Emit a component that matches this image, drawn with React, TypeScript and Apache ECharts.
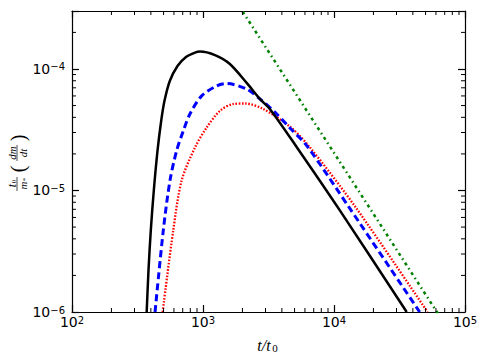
import React, { useEffect, useRef } from 'react';
import * as echarts from 'echarts';

const X_MIN = 100;
const X_MAX = 100000;
const Y_MIN = 1e-6;
const Y_MAX = 3e-4;

const xMinorTicks = [200, 300, 400, 500, 600, 700, 800, 900, 2000, 3000, 4000, 5000, 6000, 7000, 8000, 9000, 20000, 30000, 40000, 50000, 60000, 70000, 80000, 90000];
const yMinorTicks = [2e-6, 3e-6, 4e-6, 5e-6, 6e-6, 7e-6, 8e-6, 9e-6, 2e-5, 3e-5, 4e-5, 5e-5, 6e-5, 7e-5, 8e-5, 9e-5, 2e-4];

// black solid curve
const solidT = [371.6, 383.7, 399.5, 421.2, 449.6, 479.7, 508.3, 557.9, 638.8, 741.7, 868.9, 948.6, 1234, 1603, 2171, 2728, 3248, 5232, 11113, 35892];
const solidV = [1.0e-6, 2.21e-6, 4.7e-6, 1.0e-5, 2.13e-5, 3.75e-5, 5.47e-5, 7.97e-5, 1.058e-4, 1.254e-4, 1.365e-4, 1.391e-4, 1.30e-4, 1.10e-4, 7.61e-5, 5.65e-5, 4.67e-5, 2.25e-5, 6.83e-6, 1.0e-6];
// blue dashed curve
const dashT = [430.5, 497.7, 559.8, 629.5, 707.9, 796.2, 977.2, 1274, 1517, 2158, 2730, 3656, 4590, 6194, 13243, 45080];
const dashV = [1e-6, 4.7e-6, 1.208e-5, 2.13e-5, 3.1e-5, 4.28e-5, 6.01e-5, 7.26e-5, 7.59e-5, 6.82e-5, 5.65e-5, 4.26e-5, 3.28e-5, 2.34e-5, 7.08e-6, 1e-6];
// red dotted curve
const dotT = [492.0, 592.9, 687.1, 868.9, 1067, 1349, 1694, 2094, 2884, 4613, 6561, 14894, 51760];
const dotV = [1e-6, 4.7e-6, 1.208e-5, 2.26e-5, 3.3e-5, 4.53e-5, 5.14e-5, 5.2e-5, 4.68e-5, 3.35e-5, 2.26e-5, 7.08e-6, 1e-6];
// green dash-dot line
const dashDotT = [1800, 10000, 65000];
const dashDotV = [3.56e-4, 2.04e-5, 9.0e-7];

const pairs = (t: number[], v: number[]) => t.map((x, i) => [x, v[i]]);

const powLabel = (val: number) => {
  const l = Math.log10(val);
  const e = Math.round(l);
  if (Math.abs(l - e) > 1e-6) return '';
  return `{b|10}{s|${e < 0 ? '\u2212' : ''}${Math.abs(e)}}`;
};

const labelRich = {
  b: { fontSize: 14, lineHeight: 14, fontFamily: 'DejaVu Sans', color: '#000', verticalAlign: 'bottom', padding: [4, 0, 0, 0] },
  s: { fontSize: 10, lineHeight: 10, fontFamily: 'DejaVu Sans', color: '#000', verticalAlign: 'top' },
};

const frameLine = { show: true, onZero: false, lineStyle: { color: '#000', width: 1.2 } };
const majorTick = { show: true, inside: true, length: 7, lineStyle: { color: '#000', width: 1.2 } };

export default function App() {
  const ref = useRef<HTMLDivElement>(null);
  useEffect(() => {
    if (!ref.current) return;
    const chart = echarts.init(ref.current, undefined, { renderer: 'svg' });
    const serif = 'Liberation Serif';
    const it = (text: string, x: number, y: number, size = 11) => ({
      type: 'text', x, y,
      style: { text, align: 'center', verticalAlign: 'middle', fontFamily: serif, fontStyle: 'italic', fontSize: size, fill: '#000' },
    });
    const up = (text: string, x: number, y: number, size = 7) => ({
      type: 'text', x, y,
      style: { text, align: 'center', verticalAlign: 'middle', fontFamily: serif, fontSize: size, fill: '#000' },
    });
    const option: any = {
      animation: false,
      backgroundColor: '#fff',
      grid: { left: 72, right: 20, top: 11, bottom: 51, containLabel: false },
      xAxis: [
        {
          type: 'log', logBase: 10, min: X_MIN, max: X_MAX, position: 'bottom',
          axisLine: frameLine, axisTick: majorTick, splitLine: { show: false },
          axisLabel: { formatter: powLabel, rich: labelRich, margin: 3, showMinLabel: true, showMaxLabel: true },
        },
        {
          type: 'log', logBase: 10, min: X_MIN, max: X_MAX, position: 'top',
          axisLine: frameLine, axisTick: majorTick, splitLine: { show: false }, axisLabel: { show: false },
        },
      ],
      yAxis: [
        {
          type: 'log', logBase: 10, min: Y_MIN, max: Y_MAX, position: 'left',
          axisLine: frameLine, axisTick: majorTick, splitLine: { show: false },
          axisLabel: { formatter: powLabel, rich: labelRich, margin: 7 },
        },
        {
          type: 'log', logBase: 10, min: Y_MIN, max: Y_MAX, position: 'right',
          axisLine: frameLine, axisTick: majorTick, splitLine: { show: false }, axisLabel: { show: false },
        },
      ],
      graphic: [
        {
          type: 'group', x: 267, y: 345,
          children: [
            it('t/t', -3, 0, 16),
            up('0', 8, 3, 11),
          ],
        },
        {
          type: 'group', x: 17, y: 165, rotation: Math.PI / 2,
          children: [
            it('t', -20.5, -5, 12),
            up('0', -16.5, -3),
            { type: 'line', shape: { x1: -26, y1: 0, x2: -12, y2: 0 }, style: { stroke: '#000', lineWidth: 0.7 } },
            it('m', -20.5, 5.5),
            up('*', -14.5, 7.5),
            { type: 'text', x: -4, y: 0.5, style: { text: '(', align: 'center', verticalAlign: 'middle', fontFamily: serif, fontSize: 20, fill: '#000' } },
            it('dm', 12, -5),
            { type: 'line', shape: { x1: 4, y1: 0, x2: 20, y2: 0 }, style: { stroke: '#000', lineWidth: 0.7 } },
            it('dt', 12, 5.5),
            { type: 'text', x: 27, y: 0.5, style: { text: ')', align: 'center', verticalAlign: 'middle', fontFamily: serif, fontSize: 20, fill: '#000' } },
          ],
        },
      ],
      series: [
        {
          type: 'custom', xAxisIndex: 0, yAxisIndex: 0, silent: true, clip: false, z: 5,
          data: xMinorTicks.map((t) => [t, Y_MIN]),
          renderItem: (_p: any, api: any) => {
            const t = api.value(0);
            const b = api.coord([t, Y_MIN]);
            const tp = api.coord([t, Y_MAX]);
            return {
              type: 'group',
              children: [
                { type: 'line', shape: { x1: b[0], y1: b[1], x2: b[0], y2: b[1] - 4 }, style: { stroke: '#000', lineWidth: 1 } },
                { type: 'line', shape: { x1: tp[0], y1: tp[1], x2: tp[0], y2: tp[1] + 4 }, style: { stroke: '#000', lineWidth: 1 } },
              ],
            };
          },
        },
        {
          type: 'custom', xAxisIndex: 0, yAxisIndex: 0, silent: true, clip: false, z: 5,
          data: yMinorTicks.map((v) => [X_MIN, v]),
          renderItem: (_p: any, api: any) => {
            const v = api.value(1);
            const l = api.coord([X_MIN, v]);
            const r = api.coord([X_MAX, v]);
            return {
              type: 'group',
              children: [
                { type: 'line', shape: { x1: l[0], y1: l[1], x2: l[0] + 4, y2: l[1] }, style: { stroke: '#000', lineWidth: 1 } },
                { type: 'line', shape: { x1: r[0], y1: r[1], x2: r[0] - 4, y2: r[1] }, style: { stroke: '#000', lineWidth: 1 } },
              ],
            };
          },
        },
        {
          type: 'line', data: pairs(dashDotT, dashDotV), showSymbol: false, symbol: 'none', clip: true,
          lineStyle: { color: '#008000', width: 2.5, type: [3, 3.5, 1.5, 3.5] },
        },
        {
          type: 'line', data: pairs(dotT, dotV), showSymbol: false, symbol: 'none', smooth: 0.3, clip: true,
          lineStyle: { color: '#ff0000', width: 2.3, type: [1.6, 1.6] },
        },
        {
          type: 'line', data: pairs(dashT, dashV), showSymbol: false, symbol: 'none', smooth: 0.3, clip: true,
          lineStyle: { color: '#0000ff', width: 3, type: [7, 4] },
        },
        {
          type: 'line', data: pairs(solidT, solidV), showSymbol: false, symbol: 'none', smooth: 0.3, clip: true,
          lineStyle: { color: '#000000', width: 2.5 },
        },
      ],
    };
    chart.setOption(option);
    return () => chart.dispose();
  }, []);
  return <div ref={ref} style={{ position: 'fixed', left: 0, top: 0, width: 485, height: 363, background: '#fff' }} />;
}
